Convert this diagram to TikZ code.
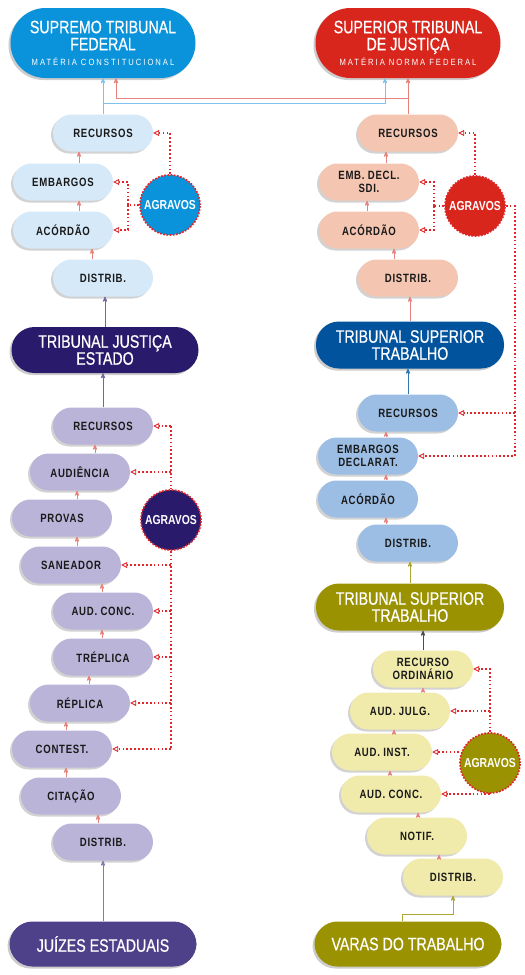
\documentclass[tikz,border=0pt]{standalone}
\usepackage{fontspec}
\setmainfont{Liberation Sans}[FakeStretch=0.8]
\newfontfamily\courtfont{Liberation Sans}[FakeStretch=0.79,FakeBold=0.6]
\newfontfamily\stagefont{Liberation Sans}[FakeStretch=0.8,LetterSpace=6]
\newfontfamily\subfont{Liberation Sans}[FakeStretch=0.85,LetterSpace=22]
\usetikzlibrary{arrows,arrows.meta,shadows}

\definecolor{stfblue}{HTML}{0A93DA}
\definecolor{stjred}{HTML}{D8261D}
\definecolor{paleblue}{HTML}{D5E9F8}
\definecolor{salmon}{HTML}{F4C6B1}
\definecolor{navy}{HTML}{2A1A6B}
\definecolor{lavender}{HTML}{BAB4D9}
\definecolor{tstblue}{HTML}{00539C}
\definecolor{midblue}{HTML}{9CBEE4}
\definecolor{olive}{HTML}{9A9200}
\definecolor{paleyellow}{HTML}{F1EBAB}
\definecolor{jupurple}{HTML}{4E4089}
\definecolor{dotred}{HTML}{E0262A}
\definecolor{linered}{HTML}{E8827C}
\definecolor{lineblue}{HTML}{7DC3EC}

\begin{document}
\begin{tikzpicture}[x=1pt,y=-1pt,>=stealth']
  \tikzstyle{court}=[rectangle,rounded corners=23pt,minimum width=187pt,minimum height=46pt,
    text=white,align=center,font=\courtfont\fontsize{18}{17}\selectfont,
    drop shadow={shadow xshift=-2pt,shadow yshift=-2pt,fill=black!40}]
  \tikzstyle{stage}=[rectangle,rounded corners=18.5pt,minimum width=100pt,minimum height=37pt,
    inner sep=1pt,align=center,text=black!90,font=\stagefont\bfseries\fontsize{12}{13}\selectfont,
    drop shadow={shadow xshift=-2pt,shadow yshift=-2pt,fill=black!35}]
  \tikzstyle{agravo}=[circle,minimum size=60pt,inner sep=0pt,draw=dotred,line width=1.7pt,
    dash pattern=on 1.7pt off 1.5pt,text=white,font=\bfseries\fontsize{13}{13}\selectfont]
  \tikzstyle{agr}=[draw=dotred,line width=1.7pt,dash pattern=on 1.7pt off 2.2pt,
    -{Triangle[open,length=6pt,width=6pt,line width=0.9pt]}]
  \tikzstyle{stepline}=[draw=linered,line width=0.8pt]
  \useasboundingbox (0,0) rectangle (525,975);

  % top courts
  \node[court,fill=stfblue,minimum width=185pt,minimum height=70pt,rounded corners=35pt] (stf) at (103,43)
    {SUPREMO TRIBUNAL\\FEDERAL\\[-2pt]{\subfont\fontsize{9}{10}\selectfont MATÉRIA\hspace{4pt}CONSTITUCIONAL}};
  \node[court,fill=stjred,minimum width=185pt,minimum height=70pt,rounded corners=35pt] (stj) at (408,43)
    {SUPERIOR TRIBUNAL\\DE JUSTIÇA\\[-2pt]{\subfont\fontsize{9}{10}\selectfont MATÉRIA\hspace{4pt}NORMA\hspace{4pt}FEDERAL}};

  % STF column
  \node[stage,fill=paleblue] (rec1) at (103,133) {RECURSOS};
  \node[stage,fill=paleblue] (emb1) at (63,182) {EMBARGOS};
  \node[stage,fill=paleblue] (aco1) at (63,230) {ACÓRDÃO};
  \node[stage,fill=paleblue] (dis1) at (103,278) {DISTRIB.};
  \node[agravo,fill=stfblue] (ag1) at (170,205) {AGRAVOS};

  % STJ column
  \node[stage,fill=salmon] (rec2) at (408,133) {RECURSOS};
  \node[stage,fill=salmon] (emb2) at (369,182) {EMB. DECL.\\SDI.};
  \node[stage,fill=salmon] (aco2) at (369,230) {ACÓRDÃO};
  \node[stage,fill=salmon] (dis2) at (408,278) {DISTRIB.};
  \node[agravo,fill=stjred] (ag2) at (475,206) {AGRAVOS};

  % state courts
  \node[court,fill=navy] (tje) at (105,350) {TRIBUNAL JUSTIÇA\\ESTADO};
  \node[stage,fill=lavender] (rec4) at (103,426) {RECURSOS};
  \node[stage,fill=lavender] (aud)  at (80,472)  {AUDIÊNCIA};
  \node[stage,fill=lavender] (prov) at (62,518)  {PROVAS};
  \node[stage,fill=lavender] (san)  at (71,565)  {SANEADOR};
  \node[stage,fill=lavender] (audc) at (103,611) {AUD. CONC.};
  \node[stage,fill=lavender] (trep) at (103,657) {TRÉPLICA};
  \node[stage,fill=lavender] (rep)  at (80,703)  {RÉPLICA};
  \node[stage,fill=lavender] (cont) at (62,749)  {CONTEST.};
  \node[stage,fill=lavender] (cit)  at (71,796)  {CITAÇÃO};
  \node[stage,fill=lavender] (dis4) at (103,842) {DISTRIB.};
  \node[agravo,fill=navy] (ag3) at (171,520) {AGRAVOS};
  \node[court,fill=jupurple,minimum height=45pt] (jui) at (103,944) {JUÍZES ESTADUAIS};

  % labour courts
  \node[court,fill=tstblue,minimum width=188pt,minimum height=47pt] (tst) at (410,345) {TRIBUNAL SUPERIOR\\TRABALHO};
  \node[stage,fill=midblue] (rec3) at (408,413) {RECURSOS};
  \node[stage,fill=midblue] (emb3) at (368,456) {EMBARGOS\\DECLARAT.};
  \node[stage,fill=midblue] (aco3) at (368,499) {ACÓRDÃO};
  \node[stage,fill=midblue] (dis3) at (408,543) {DISTRIB.};
  \node[court,fill=olive,minimum width=188pt,minimum height=47pt] (trt) at (410,607) {TRIBUNAL SUPERIOR\\TRABALHO};
  \node[stage,fill=paleyellow] (ro)   at (423,669) {RECURSO\\ORDINÁRIO};
  \node[stage,fill=paleyellow] (aj)   at (400,711) {AUD. JULG.};
  \node[stage,fill=paleyellow] (ai)   at (382,752) {AUD. INST.};
  \node[stage,fill=paleyellow] (ac2)  at (391,794) {AUD. CONC.};
  \node[stage,fill=paleyellow] (ntf)  at (417,836) {NOTIF.};
  \node[stage,fill=paleyellow] (dis5) at (453,877) {DISTRIB.};
  \node[agravo,fill=olive] (ag4) at (490,763) {AGRAVOS};
  \node[court,fill=olive,minimum height=45pt] (var) at (408,944) {VARAS DO TRABALHO};

  % up to the top courts
  \draw[lineblue,line width=0.8pt,->] (rec1.north) -- (stf.south);
  \draw[lineblue,line width=0.8pt,->] (rec1.north |- 0,103) -| ([xshift=-23pt]stj.south);
  \draw[linered,line width=0.8pt,->] (rec2.north) -- (stj.south);
  \draw[linered,line width=0.8pt,->] (rec2.north |- 0,98) -| ([xshift=13pt]stf.south);
  \draw[linered,line width=0.8pt,->] (tst.north) -- (tst.north |- dis2.south);
  \draw[jupurple!80,line width=0.8pt,->] (tje.north) -- (tje.north |- dis1.south);
  \draw[jupurple!80,line width=0.8pt,->] (rec4.north) -- (rec4.north |- tje.south);
  \draw[jupurple!70,line width=0.8pt,->] (jui.north) -- (jui.north |- dis4.south);
  \draw[tstblue!80,line width=0.8pt,->] (rec3.north) -- (rec3.north |- tst.south);
  \draw[olive!80,line width=0.8pt,->] (trt.north) -- (trt.north |- dis3.south);
  \draw[black!70,line width=0.8pt,->] (ro.north) -- (ro.north |- trt.south);
  \draw[olive!80,line width=0.8pt,->] (var.north -| dis5.west) -- ++(0,-7) -| (dis5.south);

  % steps
  \foreach \a/\b/\x in {dis1/aco1/92,aco1/emb1/79,emb1/rec1/79,
      dis2/aco2/394,aco2/emb2/367,emb2/rec2/386,
      dis4/cit/98,cit/cont/66,cont/rep/66,rep/trep/89,trep/audc/102,
      audc/san/102,san/prov/77,prov/aud/77,aud/rec4/95,
      dis3/aco3/386,aco3/emb3/386,emb3/rec3/386,
      dis5/ntf/439,ntf/ac2/418,ac2/ai/390,ai/aj/394,aj/ro/423}
    \draw[stepline,->] (\x,0 |- \a.north) -- (\x,0 |- \b.south);

  % agravos
  \coordinate (j1) at (128,205);
  \draw[agr] (ag1.north) |- (rec1.east);
  \draw[agr,-] (ag1.west) -- (j1);
  \draw[agr] (j1) |- (emb1.east);
  \draw[agr] (j1) |- (aco1.east);

  \coordinate (j2) at (434,206);
  \coordinate (j3) at (515,456);
  \draw[agr] (ag2.north) |- (rec2.east);
  \draw[agr,-] (ag2.west) -- (j2);
  \draw[agr] (j2) |- (emb2.east);
  \draw[agr] (j2) |- (aco2.east);
  \draw[agr] (ag2.east) -| (j3) -- (emb3.east);
  \draw[agr] (j3 |- rec3.east) -- (rec3.east);

  \draw[agr,-] (rec4.east -| ag3) -- (ag3.north);
  \draw[agr,-] (ag3.south) -- (cont.east -| ag3);
  \foreach \n in {rec4,aud,san,audc,trep,rep,cont}
    \draw[agr] (\n.east -| ag3) -- (\n.east);

  \draw[agr] (ag4.north) |- (ro.east);
  \draw[agr] (ag4.north |- aj.east) -- (aj.east);
  \draw[agr] (ag4.west |- ai.east) -- (ai.east);
  \draw[agr] (ag4.south |- ac2.east) -- (ac2.east);
\end{tikzpicture}
\end{document}
